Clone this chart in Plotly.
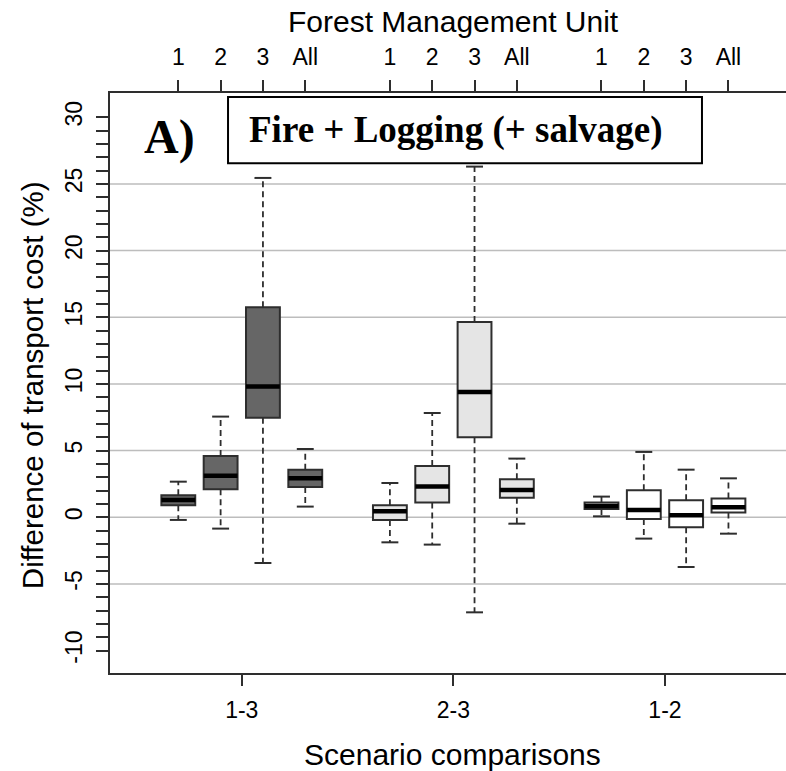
import plotly.graph_objects as go

# ---- data ----
scenarios = ["1-3", "2-3", "1-2"]
fmu_labels = ["1", "2", "3", "All"]
fill_colors = ["#666666", "#e5e5e5", "#ffffff"]

lower = {"1-3": [-0.2, -0.85, -3.43, 0.8],
         "2-3": [-1.88, -2.05, -7.13, -0.48],
         "1-2": [0.07, -1.6, -3.73, -1.23]}
q1 = {"1-3": [0.9, 2.1, 7.47, 2.27],
      "2-3": [-0.2, 1.1, 6.0, 1.47],
      "1-2": [0.62, -0.13, -0.75, 0.35]}
median = {"1-3": [1.3, 3.12, 9.8, 2.92],
          "2-3": [0.45, 2.3, 9.4, 2.05],
          "1-2": [0.85, 0.55, 0.15, 0.75]}
q3 = {"1-3": [1.65, 4.6, 15.75, 3.57],
      "2-3": [0.9, 3.85, 14.65, 2.85],
      "1-2": [1.1, 2.02, 1.27, 1.4]}
upper = {"1-3": [2.67, 7.55, 25.45, 5.12],
         "2-3": [2.57, 7.82, 26.3, 4.4],
         "1-2": [1.55, 4.9, 3.57, 2.92]}

y_ticks = [-10, -5, 0, 5, 10, 15, 20, 25, 30]
y_minor = list(range(-10, 31))
grid_vals = [-5, 0, 5, 10, 15, 20, 25]

BOXW = 0.8
CAPW = 0.4
EDGE = "#2e2e2e"

fig = go.Figure()

top_pos, top_txt, group_centers = [], [], []
wx, wy, cx, cy, mx, my = [], [], [], [], [], []
for g, sc in enumerate(scenarios):
    ps = []
    for i in range(len(fmu_labels)):
        p = g * 5 + i + 1
        ps.append(p)
        top_pos.append(p)
        top_txt.append(fmu_labels[i])
        fig.add_trace(go.Box(
            x=[p], q1=[q1[sc][i]], median=[median[sc][i]], q3=[q3[sc][i]],
            lowerfence=[q1[sc][i]], upperfence=[q3[sc][i]],
            width=BOXW, fillcolor=fill_colors[g],
            line=dict(color=EDGE, width=2), showlegend=False,
            hoverinfo="skip", boxpoints=False))
        wx += [p, p, None, p, p, None]
        wy += [q3[sc][i], upper[sc][i], None, q1[sc][i], lower[sc][i], None]
        cx += [p - CAPW / 2, p + CAPW / 2, None, p - CAPW / 2, p + CAPW / 2, None]
        cy += [upper[sc][i], upper[sc][i], None, lower[sc][i], lower[sc][i], None]
        mx += [p - BOXW / 2, p + BOXW / 2, None]
        my += [median[sc][i], median[sc][i], None]
    group_centers.append(sum(ps) / len(ps))

fig.add_trace(go.Scatter(x=wx, y=wy, mode="lines", line=dict(color=EDGE, width=1.8, dash="6px,4px"),
                         showlegend=False, hoverinfo="skip"))
fig.add_trace(go.Scatter(x=cx, y=cy, mode="lines", line=dict(color=EDGE, width=2),
                         showlegend=False, hoverinfo="skip"))
fig.add_trace(go.Scatter(x=mx, y=my, mode="lines", line=dict(color="#000000", width=4.5),
                         showlegend=False, hoverinfo="skip"))
fig.add_trace(go.Scatter(x=top_pos, y=[None] * len(top_pos), xaxis="x2", mode="markers",
                         showlegend=False, hoverinfo="skip"))

for v in grid_vals:
    fig.add_shape(type="line", xref="paper", x0=0, x1=1, yref="y", y0=v, y1=v,
                  line=dict(color="#bdbdbd", width=1.5), layer="below")

XR = [-0.614, 15.36]
font_sans = "Liberation Sans, Arial, sans-serif"
font_serif = "Liberation Serif, Times New Roman, serif"

fig.update_layout(
    width=786, height=771,
    margin=dict(l=110, r=0, t=93, b=98),
    paper_bgcolor="white", plot_bgcolor="white",
    font=dict(family=font_sans, color="#000000"),
    xaxis=dict(range=XR, tickmode="array", tickvals=group_centers, ticktext=scenarios,
               showline=True, linecolor=EDGE, linewidth=1.5, ticks="outside", ticklen=11,
               tickcolor=EDGE, tickwidth=1.5, showgrid=False, zeroline=False,
               tickfont=dict(size=23), ticklabelstandoff=5),
    xaxis2=dict(range=XR, overlaying="x", side="top", tickmode="array",
                tickvals=top_pos, ticktext=top_txt, showline=True, linecolor=EDGE,
                linewidth=1.5, ticks="outside", ticklen=11, tickcolor=EDGE, tickwidth=1.5,
                showgrid=False, zeroline=False, tickfont=dict(size=23), ticklabelstandoff=6),
    yaxis=dict(range=[-11.68, 31.82], tickmode="array", tickvals=y_ticks,
               ticktext=[str(v) for v in y_ticks], tickangle=-90,
               showline=True, linecolor=EDGE, linewidth=1.5, ticks="outside", ticklen=12,
               tickcolor=EDGE, tickwidth=1.5, showgrid=False, zeroline=False,
               tickfont=dict(size=23), ticklabelstandoff=5,
               minor=dict(tickmode="array", tickvals=y_minor, ticks="outside", ticklen=12,
                          tickcolor=EDGE, tickwidth=1.5, showgrid=False)),
    boxmode="overlay",
)

# panel title box
fig.add_shape(type="rect", xref="paper", yref="paper", x0=0.1746, x1=0.8757, y0=0.879, y1=0.993,
              line=dict(color="#000000", width=2), fillcolor="white", layer="above")
fig.add_annotation(text="<b>Fire + Logging (+ salvage)</b>", xref="paper", yref="paper",
                   x=0.512, y=0.936, xanchor="center", yanchor="middle", showarrow=False,
                   font=dict(family=font_serif, size=37, color="#000"))
fig.add_annotation(text="<b>A)</b>", xref="paper", yref="paper", x=(169 - 110) / 676,
                   y=(672.7 - 137) / 579.7, xanchor="center", yanchor="middle",
                   showarrow=False, font=dict(family=font_serif, size=48, color="#000"))

# axis titles
fig.add_annotation(text="Forest Management Unit", xref="paper", yref="paper", x=(453 - 110) / 676,
                   y=(672.7 - 22) / 579.7, xanchor="center", yanchor="middle",
                   showarrow=False, font=dict(size=30))
fig.add_annotation(text="Scenario comparisons", xref="paper", yref="paper", x=(452 - 110) / 676,
                   y=(672.7 - 754) / 579.7, xanchor="center", yanchor="middle",
                   showarrow=False, font=dict(size=30))
fig.add_annotation(text="Difference of transport cost (%)", xref="paper", yref="paper",
                   x=(32 - 110) / 676, y=(672.7 - 385) / 579.7, xanchor="center", yanchor="middle",
                   textangle=-90, showarrow=False, font=dict(size=29.5))

fig.write_html("out.html")
